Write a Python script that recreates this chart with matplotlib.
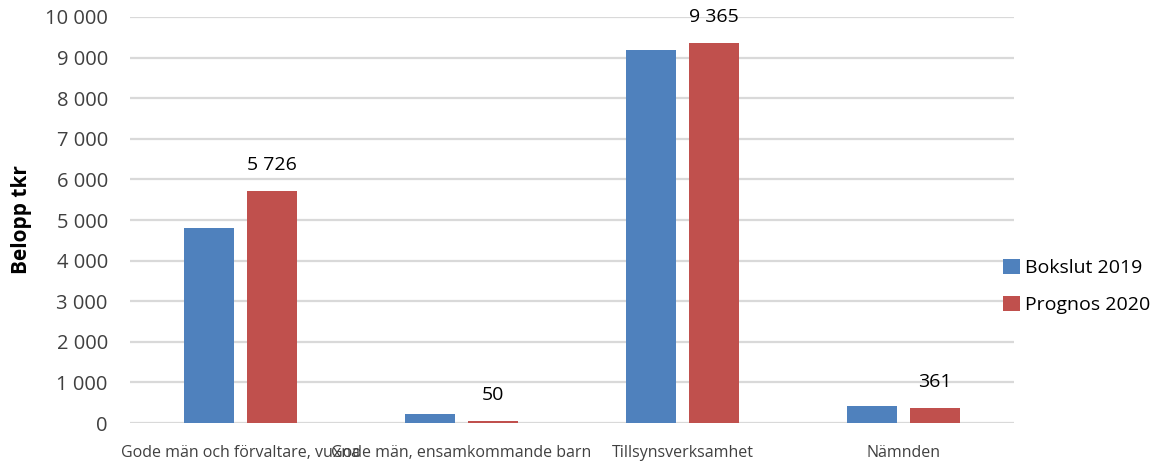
import numpy as np
import matplotlib
matplotlib.use('Agg')
from matplotlib import pyplot as plt
from matplotlib.ticker import FuncFormatter

# data
categories = ['Gode män och förvaltare, vuxna', 'Gode män, ensamkommande barn',
              'Tillsynsverksamhet', 'Nämnden']
bokslut_2019 = [4815, 230, 9190, 410]
prognos_2020 = [5726, 50, 9365, 361]
series_names = ['Bokslut 2019', 'Prognos 2020']
y_ticks = list(range(0, 10001, 1000))

plt.rcParams['font.family'] = ['Open Sans', 'DejaVu Sans']

fig = plt.figure(figsize=(11.5, 4.65), dpi=100)
ax = fig.add_axes([130 / 1150, 1 - 423 / 465, 884 / 1150, 406 / 465])

x = np.arange(len(categories))
w = 0.226
off = 0.1425
b1 = ax.bar(x - off, bokslut_2019, w, color='#4F81BD', label=series_names[0], zorder=3)
b2 = ax.bar(x + off, prognos_2020, w, color='#C0504D', label=series_names[1], zorder=3)


def sv_fmt(v, pos=None):
    return '{:,.0f}'.format(v).replace(',', ' ')


# datalabels only for prognos
for rect, v in zip(b2, prognos_2020):
    ax.annotate(sv_fmt(v), (rect.get_x() + rect.get_width() / 2, rect.get_height()),
                xytext=(0, 18.7), textcoords='offset points', ha='center', va='center',
                fontsize=14, color='black')

ax.set_xlim(-0.5, 3.5)
ax.set_ylim(0, 10000)
ax.set_yticks(y_ticks)
ax.yaxis.set_major_formatter(FuncFormatter(sv_fmt))
ax.set_xticks(x)
ax.set_xticklabels(categories, fontsize=11.5, color='#404040')
ax.tick_params(axis='y', length=0, pad=16, labelsize=14.5, labelcolor='#404040')
ax.tick_params(axis='x', length=0, pad=16)

ax.grid(axis='y', color='#d9d9d9', linewidth=1.6, zorder=0)
for s in ax.spines.values():
    s.set_visible(False)

fig.text(22 / 1150, 1 - 220 / 465, 'Belopp tkr', rotation=90, ha='center', va='center',
         fontsize=15, fontweight='bold', color='black')

fig.legend(handles=[b1, b2], loc='center left', bbox_to_anchor=(1003 / 1150, 1 - 286.5 / 465),
           frameon=False, fontsize=14, handlelength=0.85, handleheight=0.85,
           handletextpad=0.3, labelspacing=0.95, borderpad=0, borderaxespad=0)

fig.savefig('out.png', dpi=100)
